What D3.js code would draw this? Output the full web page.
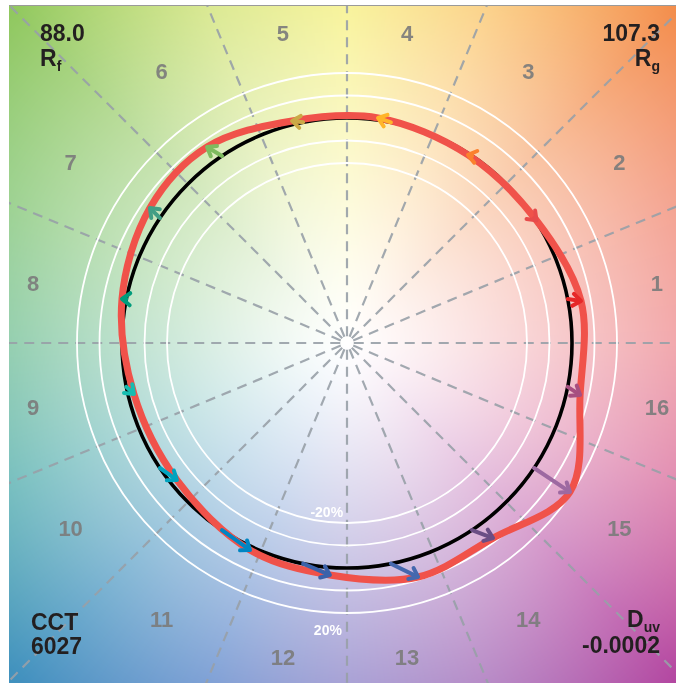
<!DOCTYPE html>
<html><head><meta charset="utf-8">
<script src="https://cdn.jsdelivr.net/npm/d3@7"></script>
<style>
html,body{margin:0;padding:0;background:#fff;}
#wrap{position:relative;width:676px;height:683px;overflow:hidden;}
canvas,svg{position:absolute;left:0;top:0;}
</style></head><body>
<div id="wrap"><canvas id="bg" width="676" height="683"></canvas><svg id="chart" width="676" height="683"></svg></div>
<script>
// ---------------- data ----------------
const bins = d3.range(1, 17);
const binLabels = bins.map(String);
// normalized test chromaticity vectors (reference circle = 1)
const testA = [1.040, 0.842, 0.538, 0.138, -0.244, -0.622, -0.876, -1.000, -0.947, -0.756, -0.431, -0.076, 0.316, 0.649, 0.991, 1.036];
const testB = [0.187, 0.545, 0.836, 1.000, 0.987, 0.871, 0.600, 0.196, -0.227, -0.609, -0.920, -1.031, -1.040, -0.867, -0.662, -0.231];
const binColors = ["#e62828", "#e74b4b", "#fb812e", "#ffb529", "#cba946", "#7ebb5f", "#419e85", "#009c7c",
                   "#16bcb0", "#00a4bf", "#0085c3", "#3b62aa", "#4568ae", "#6a4e85", "#9d69a1", "#a74f81"];
const ringLevels = [0.8, 0.9, 1.1, 1.2];
const ringLabels = ["-20%", "20%"];
const hueStopAngles = [0, 22.5, 45, 67.5, 90, 112.5, 135, 157.5, 180, 202.5, 225, 247.5, 270, 292.5, 315, 337.5, 360];
const hueStopColors = ["#eb7d84", "#f08269", "#f38c4b", "#fac364", "#f5ee6e", "#cde16e", "#91c85f", "#7dc36e",
                       "#64b98c", "#4baaaa", "#4191be", "#5582c8", "#8278c3", "#a064b4", "#b446a0", "#d76496", "#eb7d84"];
const rfValue = "88.0", rgValue = "107.3", cctValue = "6027", duvValue = "-0.0002";

// ---------------- layout ----------------
const W = 676, H = 683;
const plot = {x0: 9, y0: 6, x1: 676, y1: 683};
const cx = 347, cy = 343;
const rScale = d3.scaleLinear().domain([0, 1]).range([0, 225]);
const px = a => cx + rScale(a);
const py = b => cy - rScale(b);
const binAngle = i => (i + 0.5) * Math.PI / 8;

// ---------------- background ----------------
const hueScale = d3.scaleLinear().domain(hueStopAngles).range(hueStopColors).interpolate(d3.interpolateRgb);
const lut = d3.range(0, 3600).map(k => d3.rgb(hueScale(k / 10)));
const ctx = document.getElementById("bg").getContext("2d");
const img = ctx.createImageData(W, H);
for (let yy = 0; yy < H; yy++) {
  for (let xx = 0; xx < W; xx++) {
    const o = (yy * W + xx) * 4;
    if (xx < plot.x0 || yy < plot.y0) { img.data[o]=255; img.data[o+1]=255; img.data[o+2]=255; img.data[o+3]=255; continue; }
    const dx = xx - cx, dy = cy - yy;
    let ang = Math.atan2(dy, dx) * 180 / Math.PI; if (ang < 0) ang += 360;
    const c = lut[Math.min(3599, Math.floor(ang * 10))];
    const t = Math.min(1, Math.pow(Math.hypot(dx, dy) / 470, 1.15));
    img.data[o] = 255 + (c.r - 255) * t;
    img.data[o+1] = 255 + (c.g - 255) * t;
    img.data[o+2] = 255 + (c.b - 255) * t;
    img.data[o+3] = 255;
  }
}
ctx.putImageData(img, 0, 0);

// ---------------- svg ----------------
const svg = d3.select("#chart");
svg.append("defs").append("clipPath").attr("id", "clip")
  .append("rect").attr("x", plot.x0).attr("y", plot.y0).attr("width", plot.x1 - plot.x0).attr("height", plot.y1 - plot.y0);
const g = svg.append("g").attr("clip-path", "url(#clip)");

svg.append("line").attr("x1", plot.x0).attr("x2", plot.x1).attr("y1", plot.y0 - 0.5).attr("y2", plot.y0 - 0.5)
  .attr("stroke", "#9a9a9a").attr("stroke-width", 1.2);

// dashed radial lines at bin boundaries
g.selectAll("line.ray").data(d3.range(16)).join("line").attr("class", "ray")
  .attr("x1", k => px(0.03 * Math.cos(k * Math.PI / 8)))
  .attr("y1", k => py(0.03 * Math.sin(k * Math.PI / 8)))
  .attr("x2", k => px(3 * Math.cos(k * Math.PI / 8)))
  .attr("y2", k => py(3 * Math.sin(k * Math.PI / 8)))
  .attr("stroke", "#98a0a8").attr("stroke-width", 2.2).attr("stroke-dasharray", "10,7").attr("opacity", 0.9);

// white rings
g.selectAll("circle.ring").data(ringLevels).join("circle").attr("class", "ring")
  .attr("cx", cx).attr("cy", cy).attr("r", d => rScale(d))
  .attr("fill", "none").attr("stroke", "#fff").attr("stroke-width", 1.8);

// ring labels
g.append("text").attr("x", px(-0.09)).attr("y", py(-0.8) - 6).attr("text-anchor", "middle")
  .attr("font-family", "Liberation Sans, Arial, sans-serif").attr("font-weight", "bold").attr("font-size", 14)
  .attr("fill", "#fff").text(ringLabels[0]);
g.append("text").attr("x", px(-0.085)).attr("y", py(-1.2) + 22).attr("text-anchor", "middle")
  .attr("font-family", "Liberation Sans, Arial, sans-serif").attr("font-weight", "bold").attr("font-size", 14)
  .attr("fill", "#fff").text(ringLabels[1]);

// bin number labels
const lcx = cx - 2, lcy = cy + 2.5;
const labelR = a => 318 + 12 * Math.max(0, (Math.abs(Math.sin(2 * a)) - 0.383) / 0.541);
g.selectAll("text.bin").data(bins).join("text").attr("class", "bin")
  .attr("x", (d, i) => lcx + labelR(binAngle(i)) * Math.cos(binAngle(i)))
  .attr("y", (d, i) => lcy - labelR(binAngle(i)) * Math.sin(binAngle(i)))
  .attr("text-anchor", "middle").attr("dominant-baseline", "central")
  .attr("font-family", "Liberation Sans, Arial, sans-serif").attr("font-weight", "bold").attr("font-size", 22)
  .attr("fill", "#7c7c7c").attr("opacity", 0.92).text((d, i) => binLabels[i]);

// reference circle
g.append("circle").attr("cx", cx).attr("cy", cy).attr("r", rScale(1))
  .attr("fill", "none").attr("stroke", "#000").attr("stroke-width", 3.6);

// test curve
const pts = bins.map((d, i) => [px(testA[i]), py(testB[i])]);
g.append("path").attr("d", d3.line().curve(d3.curveCatmullRomClosed.alpha(0.5))(pts))
  .attr("fill", "none").attr("stroke", "#f0524a").attr("stroke-width", 7).attr("stroke-linejoin", "round");

// arrows
bins.forEach((d, i) => {
  const a = binAngle(i);
  const x1 = px(Math.cos(a)), y1 = py(Math.sin(a));
  const x2 = px(testA[i]), y2 = py(testB[i]);
  const dir = Math.atan2(y2 - y1, x2 - x1);
  const hl = 10, ha = 0.65;
  const ag = g.append("g").attr("stroke", binColors[i]).attr("fill", "none")
    .attr("stroke-width", 4).attr("stroke-linecap", "round").attr("stroke-linejoin", "round");
  ag.append("line").attr("x1", x1).attr("y1", y1).attr("x2", x2 - 1.5 * Math.cos(dir)).attr("y2", y2 - 1.5 * Math.sin(dir));
  ag.append("path").attr("d",
    `M${x2 - hl * Math.cos(dir - ha)},${y2 - hl * Math.sin(dir - ha)}L${x2},${y2}L${x2 - hl * Math.cos(dir + ha)},${y2 - hl * Math.sin(dir + ha)}`);
});

// metric texts
const tf = "Liberation Sans, Arial, sans-serif";
function txt(x, y, anchor, size) {
  return svg.append("text").attr("x", x).attr("y", y).attr("text-anchor", anchor)
    .attr("font-family", tf).attr("font-size", size).attr("fill", "#231f20").attr("font-weight", "bold");
}
txt(40, 41, "start", 23).text(rfValue);
const rf = txt(40, 66, "start", 23); rf.append("tspan").text("R"); rf.append("tspan").attr("font-size", 14).attr("dy", 5).text("f");
txt(660, 41, "end", 23).text(rgValue);
const rg = txt(660, 66, "end", 23); rg.append("tspan").text("R"); rg.append("tspan").attr("font-size", 14).attr("dy", 5).text("g");
txt(31, 630, "start", 23).text("CCT");
txt(31, 654, "start", 23).text(cctValue);
const du = txt(660, 627, "end", 23); du.append("tspan").text("D"); du.append("tspan").attr("font-size", 14).attr("dy", 5).text("uv");
txt(660, 653, "end", 23).text(duvValue);
</script>
</body></html>
